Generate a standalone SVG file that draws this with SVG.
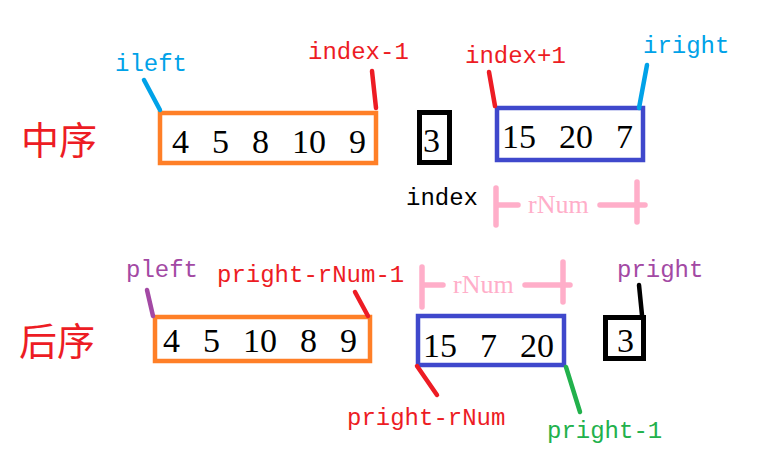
<svg xmlns="http://www.w3.org/2000/svg" width="765" height="472" viewBox="0 0 765 472">
<style>
.lbl{font-family:"Liberation Mono","DejaVu Sans Mono",monospace;font-size:24px}
.num{font-family:"Liberation Serif","DejaVu Serif",serif;font-size:34px;fill:#000;word-spacing:14.5px}
.cjk{font-family:"Noto Sans CJK SC",sans-serif;font-size:38px;fill:#ed1c24}
.rn{font-family:"Liberation Serif",serif;font-size:26px;fill:#ffaec9}
.box{fill:none}
.ln{stroke-linecap:round;stroke-width:4.5;fill:none}
.red{fill:#ed1c24}.blue{fill:#00a2e8}.purple{fill:#a349a4}.green{fill:#22b14c}
</style>
<rect width="765" height="472" fill="#fff"/>
<text class="cjk" x="21" y="154">中序</text>
<text class="cjk" x="19" y="355">后序</text>

<g id="in-left">
<rect class="box" x="160" y="113" width="216" height="50" stroke="#ff7f27" stroke-width="4.5"/>
<text class="num" x="172" y="153">4 5 8 10 9</text>
</g>
<g id="in-root">
<rect class="box" x="419.5" y="112.5" width="30" height="50" stroke="#000" stroke-width="5"/>
<text class="num" x="423" y="152">3</text>
</g>
<g id="in-right">
<rect class="box" x="497" y="108" width="146" height="52" stroke="#3f48cc" stroke-width="4.5"/>
<text class="num" x="502" y="148">15 20 7</text>
</g>
<g id="post-left">
<rect class="box" x="155" y="317" width="215" height="44" stroke="#ff7f27" stroke-width="4.5"/>
<text class="num" x="163" y="352">4 5 10 8 9</text>
</g>
<g id="post-right">
<rect class="box" x="418" y="316" width="146" height="49" stroke="#3f48cc" stroke-width="4.5"/>
<text class="num" x="423" y="357">15 7 20</text>
</g>
<g id="post-root">
<rect class="box" x="605.5" y="317.5" width="38" height="41" stroke="#000" stroke-width="5"/>
<text class="num" x="617" y="352">3</text>
</g>

<g id="labels">
<text class="lbl blue" x="115" y="71">ileft</text>
<text class="lbl red" x="308" y="59">index-1</text>
<text class="lbl red" x="465" y="63">index+1</text>
<text class="lbl blue" x="643" y="53">iright</text>
<text class="lbl" x="406" y="205" fill="#000">index</text>
<text class="rn" x="528" y="213">rNum</text>
<text class="lbl purple" x="126" y="277">pleft</text>
<text class="lbl red" x="217" y="282">pright-rNum-1</text>
<text class="rn" x="453" y="293">rNum</text>
<text class="lbl purple" x="617" y="277">pright</text>
<text class="lbl red" x="347" y="425">pright-rNum</text>
<text class="lbl green" x="547" y="438">pright-1</text>
</g>

<g id="connectors">
<line class="ln" x1="144" y1="80" x2="160" y2="110" stroke="#00a2e8"/>
<line class="ln" x1="372" y1="71" x2="376" y2="108" stroke="#ed1c24"/>
<line class="ln" x1="489" y1="72" x2="495" y2="106" stroke="#ed1c24"/>
<line class="ln" x1="647" y1="65" x2="639" y2="108" stroke="#00a2e8"/>
<line class="ln" x1="147" y1="290" x2="153" y2="316" stroke="#a349a4"/>
<line class="ln" x1="355" y1="292" x2="368" y2="316" stroke="#ed1c24"/>
<line class="ln" x1="639" y1="285" x2="642" y2="315" stroke="#000"/>
<line class="ln" x1="417" y1="366" x2="437" y2="395" stroke="#ed1c24"/>
<line class="ln" x1="566" y1="367" x2="580" y2="412" stroke="#22b14c"/>
<g stroke="#ffaec9" stroke-width="5.5" stroke-linecap="round" fill="none">
<path d="M496 188V225M496 205H518M600 205H645M637 182V222"/>
<path d="M422 267V307M422 285H443M525 285H570M563 262V302"/>
</g>
</g>
</svg>
